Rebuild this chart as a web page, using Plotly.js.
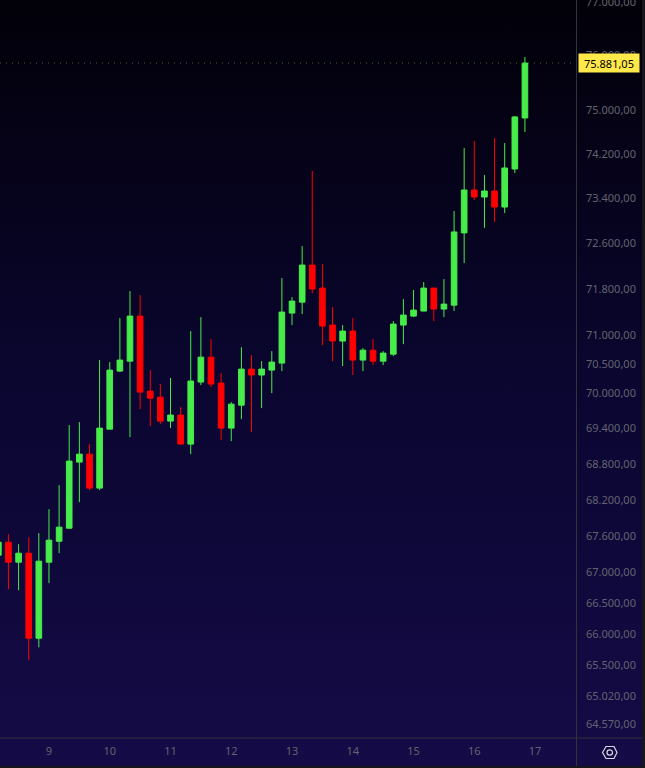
<!DOCTYPE html>
<html><head><meta charset="utf-8">
<script src="https://cdn.plot.ly/plotly-3.0.1.min.js"></script>
<style>
html,body{margin:0;padding:0;width:645px;height:768px;overflow:hidden;background:linear-gradient(180deg,#020008 0%,#0a0630 50%,#150b47 100%);}
#chart{position:absolute;left:0;top:-20px;width:645px;height:788px;}
</style></head><body><div id="chart"></div>
<script>
const candleDays=[8.167,8.333,8.5,8.667,8.833,9,9.167,9.333,9.5,9.667,9.833,10,10.167,10.333,10.5,10.667,10.833,11,11.167,11.333,11.5,11.667,11.833,12,12.167,12.333,12.5,12.667,12.833,13,13.167,13.333,13.5,13.667,13.833,14,14.167,14.333,14.5,14.667,14.833,15,15.167,15.333,15.5,15.667,15.833,16,16.167,16.333,16.5,16.667,16.833];
const opens=[67301,67515,67187,67334,65953,67187,67531,67746,68846,68980,68411,69402,70391,70562,71341,70048,69945,69538,69640,69149,70203,70631,70186,69419,69809,70425,70323,70408,70528,71393,71584,72234,71830,71185,70908,71081,70580,70751,70562,70682,71185,71341,71428,71830,71463,71532,72803,73568,73442,73550,73263,73946,74872];
const highs=[67515,67647,67482,67597,67664,68061,68461,69470,69521,69149,70580,70545,71307,71777,71707,70408,70169,70271,69775,71081,71324,70942,70357,69860,70803,70665,70562,70734,72006,71672,72569,73910,72252,71497,71185,71307,70786,70942,70734,71254,71637,71795,71936,71830,71988,73192,74324,74452,73838,74507,74416,74908,75993];
const lows=[67301,66746,66730,65600,65807,66844,67334,67746,68177,68377,68377,69402,70374,69267,69741,69453,69487,69419,69149,68980,70151,70117,69217,69200,69572,69352,69758,70014,70391,71185,71376,71742,70838,70562,70477,70323,70391,70494,70494,70648,70855,71324,71428,71254,71324,71428,72269,73388,72892,72998,73157,73874,74616];
const closes=[67515,67187,67334,65953,67203,67548,67763,68863,68980,68411,69419,70408,70580,71341,70031,69928,69538,69640,69149,70220,70631,70169,69419,69826,70425,70323,70425,70545,71411,71602,72234,71813,71167,70908,71081,70580,70751,70562,70700,71202,71359,71445,71830,71463,71550,72820,73568,73442,73550,73263,73964,74890,75881];
const yTickVals=[77000,76000,75000,74200,73400,72600,71800,71000,70500,70000,69400,68800,68200,67600,67000,66500,66000,65500,65020,64570];
const yTickText=["77.000,00","76.000,00","75.000,00","74.200,00","73.400,00","72.600,00","71.800,00","71.000,00","70.500,00","70.000,00","69.400,00","68.800,00","68.200,00","67.600,00","67.000,00","66.500,00","66.000,00","65.500,00","65.020,00","64.570,00"];
const xTickVals=[9,10,11,12,13,14,15,16,17];
const xTickText=["9","10","11","12","13","14","15","16","17"];
const lastPrice=75881.05, lastLabel="75.881,05";
const priceTop=77056, priceBottom=64368, dayLeft=8.194, dayRight=17.69;

const W=577,H=738;
const px=x=>x/W, py=y=>1-y/H;
const paneLine='#33333a';
const hex=[[602.5,752.5],[606,746.5],[614,746.5],[617,752.5],[614,758.5],[606,758.5]];
const hexPath='M'+hex.map(p=>px(p[0])+','+py(p[1])).join('L')+'Z';
const shapes=[
 {type:'line',xref:'x',yref:'y',x0:dayLeft,x1:dayRight,y0:lastPrice,y1:lastPrice,line:{color:'#5c5a28',width:1,dash:'1px,5px'}},
 {type:'line',xref:'paper',yref:'paper',x0:px(576.5),x1:px(576.5),y0:py(0),y1:py(766),line:{color:paneLine,width:1}},
 {type:'line',xref:'paper',yref:'paper',x0:0,x1:px(642),y0:py(738),y1:py(738),line:{color:paneLine,width:1}},
 {type:'rect',xref:'paper',yref:'paper',x0:px(642),x1:px(645),y0:py(0),y1:py(768),line:{width:0},fillcolor:'#17171b'},
 {type:'rect',xref:'paper',yref:'paper',x0:0,x1:px(645),y0:py(766),y1:py(768),line:{width:0},fillcolor:'#17171b'},
 {type:'path',xref:'paper',yref:'paper',path:hexPath,line:{color:'#d8d8e0',width:1.2}},
 {type:'circle',xref:'paper',yref:'paper',x0:px(607),x1:px(612.5),y0:py(755.2),y1:py(749.8),line:{color:'#d8d8e0',width:1.2}}
];
const font='"Noto Sans", sans-serif';
Plotly.newPlot('chart',[{
  type:'candlestick',x:candleDays,open:opens,high:highs,low:lows,close:closes,
  whiskerwidth:0,hoverinfo:'skip',
  increasing:{line:{color:'#47ec4a',width:1},fillcolor:'#47ec4a'},
  decreasing:{line:{color:'#ff0000',width:1},fillcolor:'#ff0000'}
}],{
  width:645,height:788,margin:{l:0,r:68,t:20,b:30,pad:0},
  paper_bgcolor:'rgba(0,0,0,0)',plot_bgcolor:'rgba(0,0,0,0)',
  showlegend:false,boxgap:0.2,
  xaxis:{type:'linear',range:[dayLeft,dayRight],tickmode:'array',tickvals:xTickVals,ticktext:xTickText,
    showgrid:false,zeroline:false,showline:false,ticks:'',ticklabelstandoff:5,
    tickfont:{family:font,size:11,color:'#63636f'},rangeslider:{visible:false},fixedrange:true},
  yaxis:{type:'log',side:'right',range:[Math.log10(priceBottom),Math.log10(priceTop)],tickmode:'array',
    tickvals:yTickVals,ticktext:yTickText,showgrid:false,zeroline:false,showline:false,ticks:'',ticklabelstandoff:8,ticklabelshift:-1,
    tickfont:{family:font,size:11,color:'#63636f'},fixedrange:true},
  shapes:shapes,
  annotations:[{xref:'paper',yref:'y',x:px(578),xanchor:'left',y:Math.log10(lastPrice),yanchor:'middle',showarrow:false,
    text:lastLabel,bgcolor:'#ffe94a',font:{family:font,size:11,color:'#000000'},width:60,height:18,align:'center',borderpad:0}]
},{displayModeBar:false,staticPlot:true});
</script></body></html>
